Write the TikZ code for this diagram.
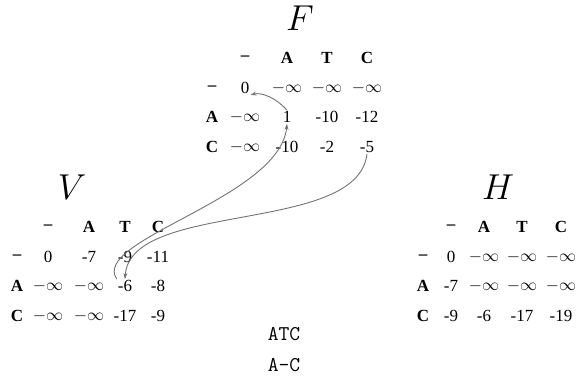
\RequirePackage{fix-cm}
\documentclass[tikz,border=0pt]{standalone}
\usepackage{fontspec}
\setmainfont{Liberation Serif}
\usepackage{xcolor}
\usetikzlibrary{arrows.meta}

\begin{document}
\begin{tikzpicture}[
    x=1pt, y=-1pt,
    cell/.style={inner sep=1pt, font=\fontsize{17}{19}\selectfont},
    hd/.style={cell, font=\fontsize{17}{19}\selectfont\bfseries},
    ttl/.style={inner sep=0pt, font=\fontsize{36}{40}\selectfont},
    seq/.style={inner sep=1pt, font=\fontsize{21}{23}\selectfont\ttfamily},
    trace/.style={->, draw=black!55, line width=0.9pt},
    >={Stealth[length=6pt, width=4pt]}
]
\useasboundingbox (0,0) rectangle (581,378);
%% Table F
\node[ttl] (Ft) at (300,18) {$F$};
\node[hd] (Fh0) at (245,58) {--};
\node[hd] (Fh1) at (287,58) {A};
\node[hd] (Fh2) at (327,58) {T};
\node[hd] (Fh3) at (367,58) {C};
\node[hd] (Fr0) at (212,88) {--};
\node[cell] (F00) at (245,88) {0};
\node[cell] (F01) at (287,88) {$-\infty$};
\node[cell] (F02) at (327,88) {$-\infty$};
\node[cell] (F03) at (367,88) {$-\infty$};
\node[hd] (Fr1) at (212,117) {A};
\node[cell] (F10) at (245,117) {$-\infty$};
\node[cell] (F11) at (287,117) {1};
\node[cell] (F12) at (327,117) {-10};
\node[cell] (F13) at (367,117) {-12};
\node[hd] (Fr2) at (212,147) {C};
\node[cell] (F20) at (245,147) {$-\infty$};
\node[cell] (F21) at (287,147) {-10};
\node[cell] (F22) at (327,147) {-2};
\node[cell] (F23) at (367,147) {-5};
%% Table V
\node[ttl] (Vt) at (72,187) {$V$};
\node[hd] (Vh0) at (48,227) {--};
\node[hd] (Vh1) at (89,227) {A};
\node[hd] (Vh2) at (125,227) {T};
\node[hd] (Vh3) at (158,227) {C};
\node[hd] (Vr0) at (17,257) {--};
\node[cell] (V00) at (48,257) {0};
\node[cell] (V01) at (89,257) {-7};
\node[cell] (V02) at (125,257) {-9};
\node[cell] (V03) at (158,257) {-11};
\node[hd] (Vr1) at (17,286) {A};
\node[cell] (V10) at (48,286) {$-\infty$};
\node[cell] (V11) at (89,286) {$-\infty$};
\node[cell] (V12) at (125,286) {-6};
\node[cell] (V13) at (158,286) {-8};
\node[hd] (Vr2) at (17,316) {C};
\node[cell] (V20) at (48,316) {$-\infty$};
\node[cell] (V21) at (89,316) {$-\infty$};
\node[cell] (V22) at (125,316) {-17};
\node[cell] (V23) at (158,316) {-9};
%% Table H
\node[ttl] (Ht) at (498,187) {$H$};
\node[hd] (Hh0) at (451,227) {--};
\node[hd] (Hh1) at (484,227) {A};
\node[hd] (Hh2) at (522,227) {T};
\node[hd] (Hh3) at (561,227) {C};
\node[hd] (Hr0) at (423,257) {--};
\node[cell] (H00) at (451,257) {0};
\node[cell] (H01) at (484,257) {$-\infty$};
\node[cell] (H02) at (522,257) {$-\infty$};
\node[cell] (H03) at (561,257) {$-\infty$};
\node[hd] (Hr1) at (423,286) {A};
\node[cell] (H10) at (451,286) {-7};
\node[cell] (H11) at (484,286) {$-\infty$};
\node[cell] (H12) at (522,286) {$-\infty$};
\node[cell] (H13) at (561,286) {$-\infty$};
\node[hd] (Hr2) at (423,316) {C};
\node[cell] (H20) at (451,316) {-9};
\node[cell] (H21) at (484,316) {-6};
\node[cell] (H22) at (522,316) {-17};
\node[cell] (H23) at (561,316) {-19};
%% Alignment
\node[seq] (top) at (284,334) {ATC};
\node[seq] (bot) at (284,365) {A-C};
%% Traceback
\draw[trace] (F23.south) .. controls (358,235) and (130,200) .. (V12.north);
\draw[trace] (V12.north west) .. controls (90,240) and (280,198) .. (F11.south);
\draw[trace] (F11.north) .. controls (276,98) and (262,92) .. (F00.south east);
\end{tikzpicture}
\end{document}
